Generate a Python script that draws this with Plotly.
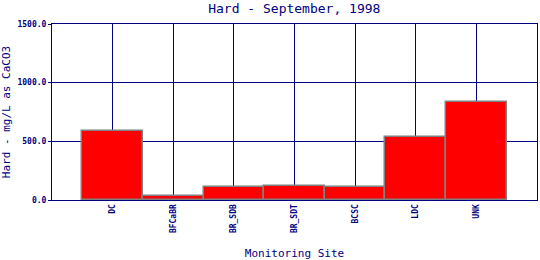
import plotly.graph_objects as go

sites = ["DC", "BFCaBR", "BR_SDB", "BR_SDT", "BCSC", "LDC", "UNK"]
hardness = [585, 34, 108, 117, 108, 534, 832]
y_ticks = [0, 500, 1000, 1500]

NAVY = "#000080"
MONO = "DejaVu Sans Mono"

fig = go.Figure(go.Bar(
    x=sites, y=hardness, width=1.0,
    marker=dict(color="#ff0000", line=dict(color="#808080", width=1.5)),
))

fig.update_layout(
    width=540, height=260,
    margin=dict(l=52, r=3, t=24, b=60),
    paper_bgcolor="white", plot_bgcolor="white",
    bargap=0, showlegend=False,
    title=dict(text="Hard - September, 1998", x=0.545, xanchor="center",
               y=0.966, yanchor="middle",
               font=dict(family=MONO, size=13, color=NAVY)),
)
fig.update_xaxes(
    type="category", range=[-1, 7], automargin=False,
    showgrid=True, gridcolor=NAVY, gridwidth=1,
    showline=True, linecolor=NAVY, linewidth=1, mirror=True,
    ticks="", tickangle=-90,
    tickfont=dict(family=MONO, size=8, color=NAVY, weight="bold"),
    title=dict(text="Monitoring Site", standoff=18,
               font=dict(family=MONO, size=11, color=NAVY)),
)
fig.update_yaxes(
    range=[0, 1500], tickvals=y_ticks, tickformat=".1f", automargin=False,
    showgrid=True, gridcolor=NAVY, gridwidth=1, zeroline=False,
    showline=True, linecolor=NAVY, linewidth=1, mirror=True,
    ticks="outside", ticklen=3, tickcolor=NAVY,
    tickfont=dict(family=MONO, size=8, color=NAVY, weight="bold"),
    title=dict(text="Hard - mg/L as CaCO3", standoff=6,
               font=dict(family=MONO, size=11, color=NAVY)),
)

fig.write_html("out.html")
